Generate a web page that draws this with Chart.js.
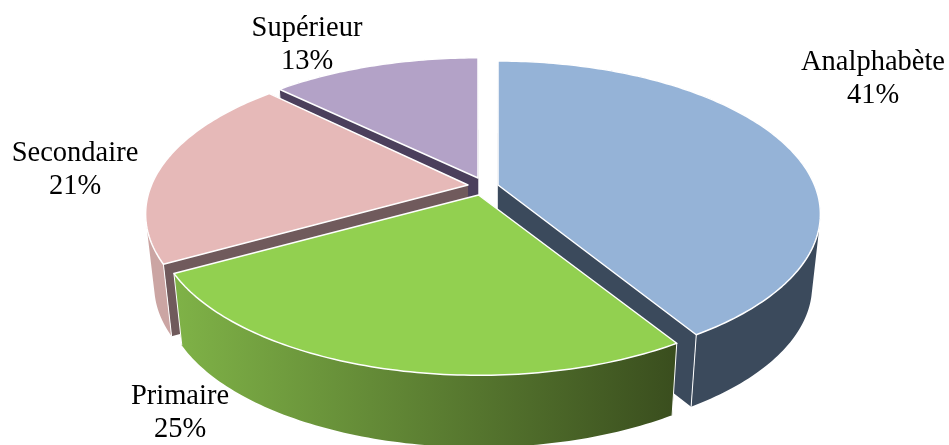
<!DOCTYPE html>
<html><head><meta charset="utf-8">
<style>html,body{margin:0;padding:0;background:#fff}canvas{display:block}</style>
<script src="https://cdn.jsdelivr.net/npm/chart.js@4"></script>
</head><body><canvas id="c" width="949" height="445"></canvas>
<script>
const categories = ['Analphabète', 'Primaire', 'Secondaire', 'Supérieur'];
const shares = [41.2, 25.7, 20.5, 12.6];
const percentLabels = ['41%', '25%', '21%', '13%'];
const topColors = ['#95b3d7', '#92d050', '#e6b9b8', '#b3a2c7'];

// 3D look of the pie (perspective of the plane, extrusion, explosion)
const VIEW = { a: 316.5, b: 147.5, p: 0.19, depth: 72, shrink: 0.975, vanishX: 490 };
const APEX = [[498,185],[478.5,195],[468,185],[478,178]];
const Y_SCALE = [1, 0.99, 1, 0.97];
const PAINT_ORDER = [3,2,0,1];
const CUT_COLORS = ['#3b4a5c', '#3b4f1f', '#705a5c', '#4b3f5c'];
const RIM_COLORS = [['#3b4a5c','#3b4a5c'], ['#7fb247','#3a4e1e'], ['#cba5a3','#cba5a3'], ['#4b3f5c','#4b3f5c']];
const LABEL_POS = [[873,70],[180,404],[75,161],[307,36]];
const LABEL_FONT = '28.5px "Liberation Serif"';
const LINE = 33;

function rimPoint(i, theta) {
  const u = Math.sin(theta), v = -Math.cos(theta), w = 1 - VIEW.p * v;
  return [APEX[i][0] + VIEW.a * u / w, APEX[i][1] + Y_SCALE[i] * VIEW.b * v / w];
}
function drop(pt) {
  return [VIEW.vanishX + VIEW.shrink * (pt[0] - VIEW.vanishX), pt[1] + VIEW.depth];
}
function addQuad(ctx, a, b, c, d) {
  const area = (b[0]-a[0])*(c[1]-a[1]) - (c[0]-a[0])*(b[1]-a[1]) + (c[0]-a[0])*(d[1]-a[1]) - (d[0]-a[0])*(c[1]-a[1]);
  const pts = area >= 0 ? [a,b,c,d] : [d,c,b,a];
  ctx.moveTo(pts[0][0],pts[0][1]);
  for (let k = 1; k < 4; k++) ctx.lineTo(pts[k][0],pts[k][1]);
  ctx.closePath();
}
function seg(ctx, a, b, w) {
  ctx.beginPath(); ctx.moveTo(a[0],a[1]); ctx.lineTo(b[0],b[1]);
  ctx.strokeStyle = '#fff'; ctx.lineWidth = w; ctx.stroke();
}
const pie3d = {
  id: 'pie3d',
  beforeDatasetDraw(chart, args) {
    const ctx = chart.ctx, arcs = chart.getDatasetMeta(args.index).data;
    const ang = arcs.map(el => {
      const p = el.getProps(['startAngle','endAngle'], true);
      return [p.startAngle + Math.PI/2, p.endAngle + Math.PI/2];
    });
    ctx.save();
    ctx.lineJoin = 'round';
    for (const i of PAINT_ORDER) {
      const [t0, t1] = ang[i], n = Math.ceil((t1 - t0) * 180 / Math.PI);
      const rim = [];
      for (let k = 0; k <= n; k++) rim.push(rimPoint(i, t0 + (t1 - t0) * k / n));
      const apex = APEX[i], apexB = drop(apex);
      // radial cut faces
      ctx.beginPath();
      for (const r of [rim[0], rim[n]]) addQuad(ctx, apex, r, drop(r), apexB);
      ctx.fillStyle = CUT_COLORS[i]; ctx.fill();
      // outer wall as one seamless path
      const g = ctx.createLinearGradient(175, 0, 675, 0);
      g.addColorStop(0, RIM_COLORS[i][0]); g.addColorStop(1, RIM_COLORS[i][1]);
      ctx.beginPath();
      for (let k = 0; k < n; k++) addQuad(ctx, rim[k], rim[k+1], drop(rim[k+1]), drop(rim[k]));
      ctx.fillStyle = g; ctx.fill();
      // corner lines
      seg(ctx, rim[0], drop(rim[0]), 1);
      seg(ctx, rim[n], drop(rim[n]), 1);
      // top face
      ctx.beginPath();
      ctx.moveTo(apex[0], apex[1]);
      rim.forEach(p => ctx.lineTo(p[0], p[1]));
      ctx.closePath();
      ctx.fillStyle = topColors[i]; ctx.fill();
      ctx.strokeStyle = '#fff'; ctx.lineWidth = 1.5; ctx.stroke();
    }
    ctx.restore();
    return false;
  },
  afterDraw(chart) {
    const ctx = chart.ctx;
    ctx.save();
    ctx.font = LABEL_FONT; ctx.fillStyle = '#000'; ctx.textAlign = 'center'; ctx.textBaseline = 'alphabetic';
    categories.forEach((name, i) => {
      ctx.fillText(name, LABEL_POS[i][0], LABEL_POS[i][1]);
      ctx.fillText(percentLabels[i], LABEL_POS[i][0], LABEL_POS[i][1] + LINE);
    });
    ctx.restore();
  }
};
new Chart(document.getElementById('c'), {
  type: 'pie',
  data: { labels: categories, datasets: [{ data: shares, backgroundColor: topColors, borderColor: '#fff' }] },
  options: {
    responsive: false, animation: false,
    plugins: { legend: { display: false }, tooltip: { enabled: false } }
  },
  plugins: [pie3d]
});
</script></body></html>
